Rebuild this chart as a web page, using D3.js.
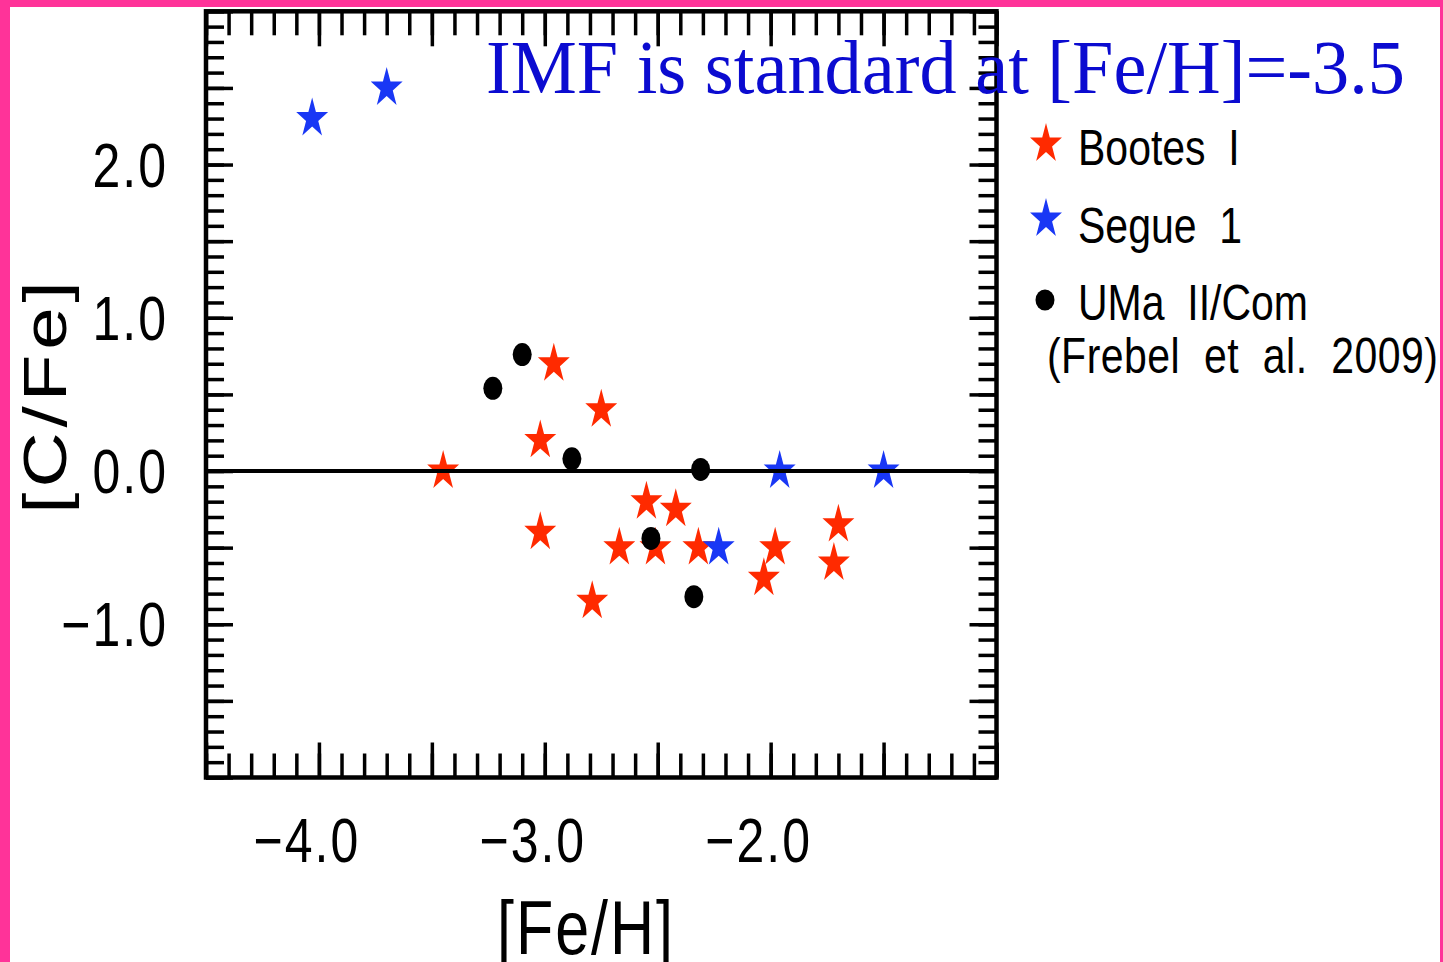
<!DOCTYPE html>
<html>
<head>
<meta charset="utf-8">
<script src="https://cdn.jsdelivr.net/npm/d3@7"></script>
<style>
  body { margin: 0; background: #fff; }
  svg { display: block; }
  text { white-space: pre; }
</style>
</head>
<body>
<svg width="1443" height="962"></svg>
<script>
// data
const bootesFeH = [-3.45, -2.96, -2.75, -3.02, -3.02, -2.79, -2.67, -2.55, -2.51, -2.42, -2.32, -2.03, -1.98, -1.70, -1.72];
const bootesCFe = [0.00, 0.70, 0.40, 0.20, -0.40, -0.85, -0.50, -0.20, -0.50, -0.25, -0.50, -0.70, -0.50, -0.35, -0.60];
const segueFeH = [-4.03, -3.70, -2.23, -1.96, -1.50];
const segueCFe = [2.30, 2.50, -0.50, 0.00, 0.00];
const umaFeH = [-3.23, -3.10, -2.88, -2.31, -2.53, -2.34];
const umaCFe = [0.54, 0.76, 0.08, 0.01, -0.44, -0.82];
const xLabelTicks = [-4, -3, -2];
const yLabelTicks = [-1, 0, 1, 2];
const legendNames = ["Bootes  I", "Segue  1", "UMa  II/Com"];
const legendNote = "(Frebel  et  al.  2009)";
const title = "IMF is standard at [Fe/H]=-3.5";

const svg = d3.select("svg");
const W = +svg.attr("width"), H = +svg.attr("height");
const red = "#ff2a00", blue = "#1937f5", pink = "#ff3399";
const font = "'Liberation Sans', Arial, sans-serif";
const stretch = 1.25; // the source picture is squashed horizontally

svg.append("rect").attr("width", W).attr("height", H).attr("fill", "#fff");

// plot frame
const L = 206, R = 996.5, T = 11.3, B = 777.5;
const x = d3.scaleLinear().domain([-4.5, -1.0]).range([L, R]);
const y = d3.scaleLinear().domain([-2.0, 3.0]).range([B, T]);

const minorX = d3.range(-45, -9, 1).map(d => d / 10);
const majorX = d3.range(-9, -1, 1).map(d => d / 2);
const minorY = d3.range(-20, 31, 1).map(d => d / 10);
const majorY = d3.range(-4, 7, 1).map(d => d / 2);

function tickAxis(axis, tr) {
  const g = svg.append("g").attr("transform", tr).call(axis.tickFormat(""));
  g.select(".domain").remove();
  g.selectAll(".tick line").attr("stroke", "#000").attr("stroke-width", 3.5);
  return g;
}
// bottom / top
tickAxis(d3.axisBottom(x).tickValues(minorX).tickSize(-24), `translate(0,${B})`);
tickAxis(d3.axisBottom(x).tickValues(majorX).tickSize(-35), `translate(0,${B})`);
tickAxis(d3.axisTop(x).tickValues(minorX).tickSize(-24), `translate(0,${T})`);
tickAxis(d3.axisTop(x).tickValues(majorX).tickSize(-35), `translate(0,${T})`);
// left / right
tickAxis(d3.axisLeft(y).tickValues(minorY).tickSize(-18), `translate(${L},0)`);
tickAxis(d3.axisLeft(y).tickValues(majorY).tickSize(-27), `translate(${L},0)`);
tickAxis(d3.axisRight(y).tickValues(minorY).tickSize(-18), `translate(${R},0)`);
tickAxis(d3.axisRight(y).tickValues(majorY).tickSize(-27), `translate(${R},0)`);

svg.append("rect")
  .attr("x", L).attr("y", T).attr("width", R - L).attr("height", B - T)
  .attr("fill", "none").attr("stroke", "#000").attr("stroke-width", 4.5);

const fmt = d => (d < 0 ? "\u2212" : "") + Math.abs(d).toFixed(1);

svg.append("g").selectAll("text").data(xLabelTicks).join("text")
  .attr("transform", d => `translate(${x(d) - 12},862) scale(1,${stretch})`)
  .attr("text-anchor", "middle")
  .attr("font-family", font).attr("font-size", 50)
  .attr("letter-spacing", 2)
  .text(fmt);

svg.append("g").selectAll("text").data(yLabelTicks).join("text")
  .attr("transform", d => `translate(168,${y(d) + 22}) scale(1,${stretch})`)
  .attr("text-anchor", "end")
  .attr("font-family", font).attr("font-size", 50)
  .attr("letter-spacing", 2)
  .text(fmt);

svg.append("text")
  .attr("transform", `translate(586,954) scale(1,${stretch})`)
  .attr("text-anchor", "middle")
  .attr("font-family", font).attr("font-size", 61)
  .attr("letter-spacing", 2)
  .text("[Fe/H]");

svg.append("text")
  .attr("transform", `translate(66,395) rotate(-90) scale(${stretch},1)`)
  .attr("text-anchor", "middle")
  .attr("font-family", font).attr("font-size", 61)
  .attr("letter-spacing", 4)
  .text("[C/Fe]");

// markers
const star = d3.symbol(d3.symbolStar, 316)();

function stars(xs, ys, color) {
  svg.append("g").selectAll("path").data(xs).join("path")
    .attr("d", star)
    .attr("transform", (d, i) => `translate(${x(d)},${y(ys[i])}) scale(1,${stretch})`)
    .attr("fill", color);
}
stars(bootesFeH, bootesCFe, red);
stars(segueFeH, segueCFe, blue);

svg.append("g").selectAll("ellipse").data(umaFeH).join("ellipse")
  .attr("cx", d => x(d)).attr("cy", (d, i) => y(umaCFe[i]))
  .attr("rx", 9.5).attr("ry", 11.5)
  .attr("fill", "#000");

// zero line
svg.append("line")
  .attr("x1", L).attr("x2", R).attr("y1", y(0)).attr("y2", y(0))
  .attr("stroke", "#000").attr("stroke-width", 4);

// legend
const legY = [144, 219, 300];
const legText = [165, 243, 320];
const leg = svg.append("g");
leg.append("path").attr("d", star).attr("fill", red)
  .attr("transform", `translate(1046,${legY[0]}) scale(1,${stretch})`);
leg.append("path").attr("d", star).attr("fill", blue)
  .attr("transform", `translate(1046,${legY[1]}) scale(1,${stretch})`);
leg.append("ellipse").attr("cx", 1045).attr("cy", legY[2]).attr("rx", 9.5).attr("ry", 10.5).attr("fill", "#000");
leg.selectAll("text.name").data(legendNames).join("text").attr("class", "name")
  .attr("transform", (d, i) => `translate(1078,${legText[i]}) scale(1,1.2)`)
  .attr("font-family", font).attr("font-size", 41)
  .text(d => d);
leg.append("text")
  .attr("transform", `translate(1047,373) scale(1,1.2)`)
  .attr("font-family", font).attr("font-size", 41)
  .attr("textLength", 391).attr("lengthAdjust", "spacing")
  .text(legendNote);

// title, over the frame
svg.append("text")
  .attr("x", 486).attr("y", 93)
  .attr("font-family", "'Liberation Serif', 'Times New Roman', serif")
  .attr("font-size", 77)
  .attr("fill", "#0b0bd0")
  .attr("textLength", 919).attr("lengthAdjust", "spacingAndGlyphs")
  .text(title);

// pink page border
svg.append("rect").attr("x", 0).attr("y", 0).attr("width", W).attr("height", 7).attr("fill", pink);
svg.append("rect").attr("x", 0).attr("y", 0).attr("width", 10).attr("height", H).attr("fill", pink);
svg.append("rect").attr("x", W - 3).attr("y", 0).attr("width", 3).attr("height", H).attr("fill", pink);
</script>
</body>
</html>
